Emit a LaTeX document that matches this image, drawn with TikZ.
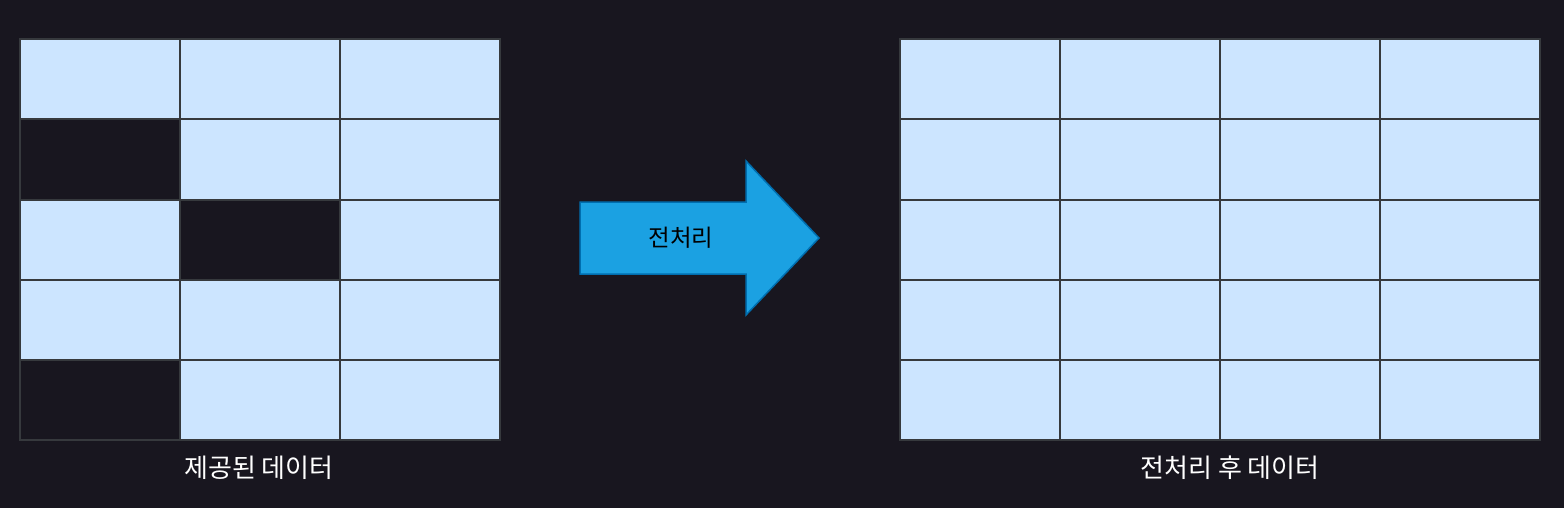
\documentclass[tikz,border=0pt]{standalone}
\usepackage{fontspec}
\setmainfont{Noto Sans CJK KR}
\definecolor{bg}{HTML}{18161F}
\definecolor{cellfill}{HTML}{CCE5FF}
\definecolor{cellline}{HTML}{36393D}
\definecolor{arrowfill}{HTML}{1BA1E2}
\definecolor{arrowline}{HTML}{006EAF}
\tikzset{
  cell/.style={draw=cellline, fill=cellfill, line width=2pt, minimum width=160pt, minimum height=80.2pt, inner sep=0pt},
  hole/.style={cell, fill=bg},
  caption/.style={text=white, font=\fontsize{26}{30}\selectfont, inner sep=0pt}
}
\begin{document}
\begin{tikzpicture}[x=1pt,y=-1pt]
\useasboundingbox[fill=bg] (0,0) rectangle (1564,508);

% given data, 5 x 3
\foreach \r in {1,...,5}
  \foreach \c in {1,2,3}
    \node[cell] (L\r\c) at (-60+160*\c, -1+80.2*\r) {};
\node[hole] (L21) at (100,159.4) {};
\node[hole] (L32) at (260,239.6) {};
\node[hole] (L51) at (100,400) {};

% preprocessed data, 5 x 4
\foreach \r in {1,...,5}
  \foreach \c in {1,...,4}
    \node[cell] (R\r\c) at (820+160*\c, -1+80.2*\r) {};

% arrow
\path[draw=arrowline, fill=arrowfill, line width=1.5pt, line join=miter]
  (580,202) -- (746,202) -- (746,161) -- (819,238) -- (746,315) -- (746,274) -- (580,274) -- cycle;
\node[font=\fontsize{23.5}{28}\selectfont, inner sep=0pt] (prep) at (681,238) {전처리};

\node[caption] (given) at (259,468) {제공된 데이터};
\node[caption] (after) at (1230,468) {전처리 후 데이터};
\end{tikzpicture}
\end{document}
